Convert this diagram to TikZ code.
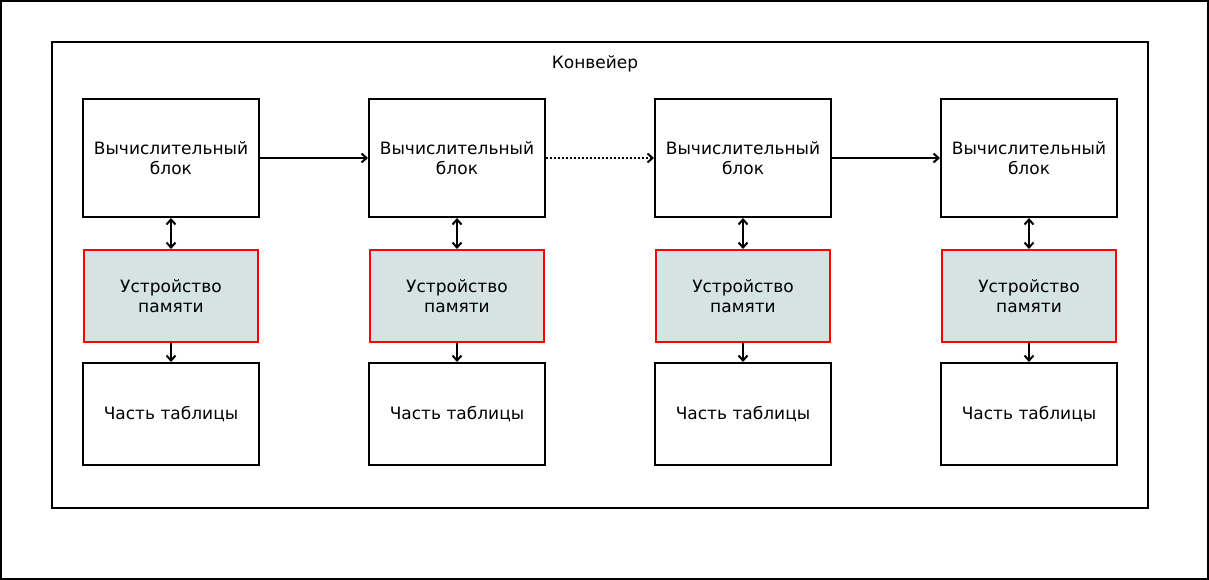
\documentclass[tikz,border=0pt]{standalone}
\usepackage{fontspec}
\setmainfont{DejaVu Sans}
\usetikzlibrary{arrows.meta}
\definecolor{memfill}{RGB}{214,227,227}
\begin{document}
\begin{tikzpicture}[x=1pt,y=-1pt,
  font=\fontsize{17}{20.5}\selectfont,
  box/.style={draw=black,line width=2pt,align=center,inner sep=0pt},
  membox/.style={draw=red,fill=memfill,line width=2pt,align=center,inner sep=0pt},
  tip/.style={Straight Barb[length=5pt,width=9pt,line width=2pt]},
  conn/.style={line width=2pt,-{Straight Barb[length=5pt,width=9pt,line width=2pt]}},
  dconn/.style={line width=2pt,{Straight Barb[length=5pt,width=9pt,line width=2pt]}-{Straight Barb[length=5pt,width=9pt,line width=2pt]}}
]
\draw[line width=2pt,fill=white] (1,1) rectangle (1208,579);
\useasboundingbox (0,0) rectangle (1209,580);
\node[draw,line width=2pt,minimum width=1096pt,minimum height=466pt,inner sep=0pt] (pipe) at (600,275) {};
\node (title) at (595,64) {Конвейер};
% columns
\foreach \i/\cx in {1/171, 2/457, 3/743, 4/1029}{
  \node[box,minimum width=176pt,minimum height=118pt] (c\i) at (\cx,158) {Вычислительный\\блок};
  \node[membox,minimum width=174pt,minimum height=92pt] (m\i) at (\cx,296) {Устройство\\памяти};
  \node[box,minimum width=176pt,minimum height=102pt] (t\i) at (\cx,414) {Часть таблицы};
}
\foreach \i in {1,2,3,4}{
  \draw[dconn] (c\i.south) -- (m\i.north);
  \draw[conn] (m\i.south) -- (t\i.north);
}
\draw[conn] (c1.east) -- (c2.west);
\draw[conn,dotted] (c2.east) -- (c3.west);
\draw[conn] (c3.east) -- (c4.west);
\end{tikzpicture}
\end{document}
